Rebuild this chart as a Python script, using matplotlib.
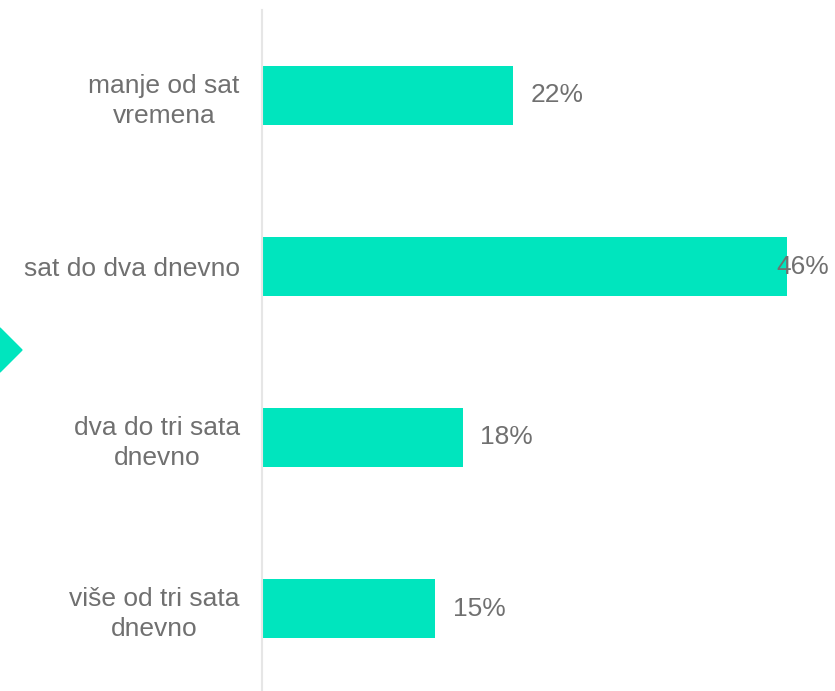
import matplotlib.pyplot as plt
from matplotlib.patches import Polygon

categories = ['manje od sat\nvremena', 'sat do dva dnevno', 'dva do tri sata\ndnevno', 'više od tri sata\ndnevno']
values = [22, 46, 17.6, 15.2]
value_labels = ['22%', '46%', '18%', '15%']

bar_color = '#00E5BE'
text_color = '#707070'

plt.rcParams['font.family'] = ['Liberation Sans', 'DejaVu Sans']

fig = plt.figure(figsize=(8.35, 6.91), dpi=100)
W, H = 835, 691
ax = fig.add_axes([262 / W, (H - 694) / H, (W - 262) / W, 684 / H])

y = list(range(len(categories)))
ax.barh(y, values, height=0.35, color=bar_color)
ax.set_ylim(3.5, -0.5)
ax.set_xlim(0, 50.2)

ax.set_yticks(y)
ax.set_yticklabels(categories, fontsize=19, color=text_color, multialignment='center', linespacing=1.32)
ax.tick_params(axis='y', length=0, pad=16)
ax.set_xticks([])

for s in ['top', 'right', 'bottom']:
    ax.spines[s].set_visible(False)
ax.spines['left'].set_color('#e6e6e6')
ax.spines['left'].set_linewidth(1.5)

for yi, v, lab in zip(y, values, value_labels):
    x = min(v + 1.5, 45.1)
    ax.text(x, yi, lab, va='center', ha='left', fontsize=19, color=text_color, clip_on=False)

# decorative diamond at the left edge
cy = (H - 350) / H
fig.patches.append(Polygon([(-22 / W, cy), (0, cy + 22 / H), (22 / W, cy), (0, cy - 22 / H)],
                           closed=True, color=bar_color, transform=fig.transFigure, figure=fig))

fig.savefig('out.png', dpi=100)
